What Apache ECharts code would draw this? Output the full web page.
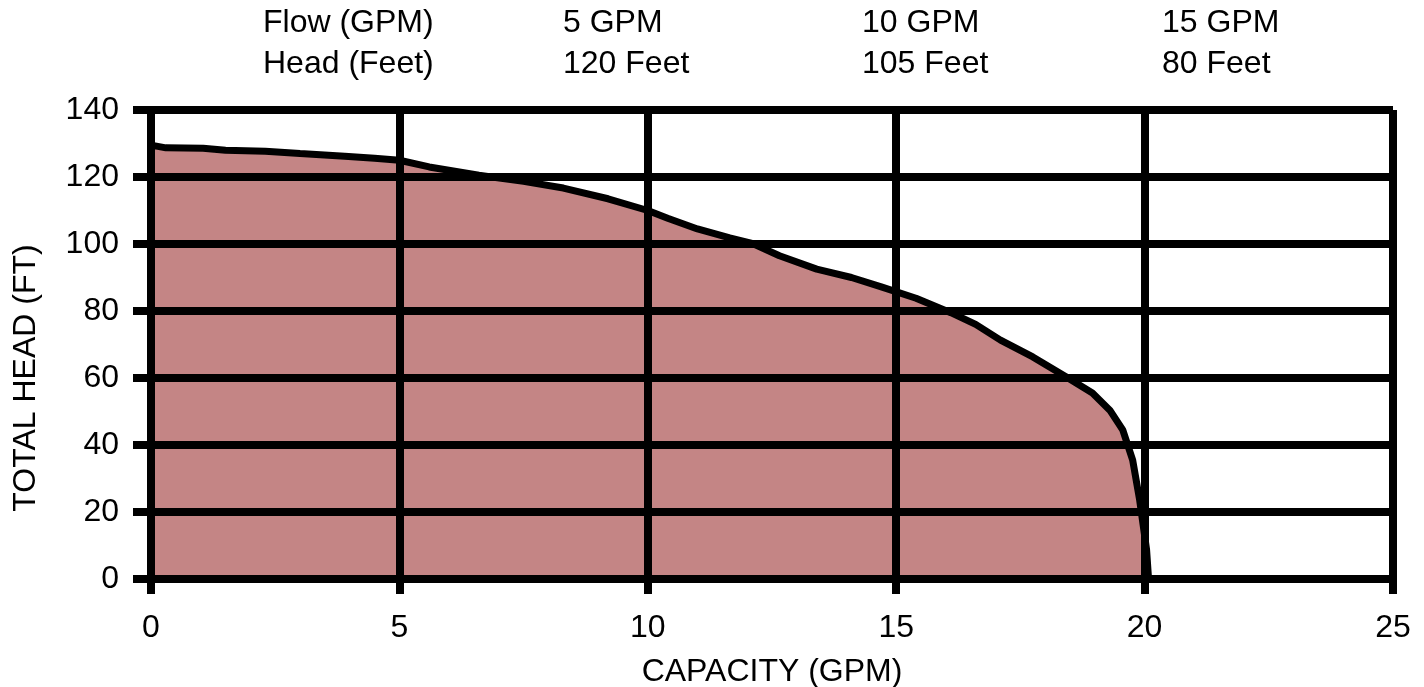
<!DOCTYPE html>
<html>
<head>
<meta charset="utf-8">
<script src="https://cdn.jsdelivr.net/npm/echarts@6/dist/echarts.min.js"></script>
<style>
  html, body { margin: 0; padding: 0; background: #fff; }
  #chart { width: 1424px; height: 687px; }
</style>
</head>
<body>
<div id="chart"></div>
<script>
// pump curve: [capacity GPM, total head ft]
const capacity = [0, 0, 0.3, 1.05, 1.5, 2.3, 3, 3.9, 4.5, 5, 5.6, 6.6, 7.5, 8.3, 9.2, 10, 10.4, 11, 11.65, 12.1,
  12.65, 13.4, 14.1, 14.7, 15.4, 16.1, 16.6, 17.1, 17.75, 18.4, 18.95, 19.3, 19.56, 19.76, 19.9, 20.04, 20.08]
const head = [0, 129.5, 128.7, 128.6, 128, 127.7, 127, 126.2, 125.6, 125, 123, 120.5, 118.7, 116.7, 113.5, 110, 107.7, 104.5, 101.8, 100.2,
  96.5, 92.5, 90, 87.2, 83.8, 79.5, 76, 71.3, 66.3, 60.5, 55.5, 50.4, 44.5, 35.5, 23.6, 8.7, 0]

// table printed above the chart
const flowLabels = ['5 GPM', '10 GPM', '15 GPM']
const headLabels = ['120 Feet', '105 Feet', '80 Feet']
const colLeft = [563, 862, 1162]

const font = 'Liberation Sans, Arial, sans-serif'
const black = '#000'
const fs = 32

const chart = echarts.init(document.getElementById('chart'))

const txt = (t, x, y) => ({ type: 'text', left: x, top: y, style: { text: t, font: fs + 'px ' + font, fill: black } })
const graphics = [txt('Flow (GPM)', 263, 7), txt('Head (Feet)', 263, 48)]
flowLabels.forEach((t, i) => {
  graphics.push(txt(t, colLeft[i], 7))
  graphics.push(txt(headLabels[i], colLeft[i], 48))
})
// y axis title sits a bit below the middle of the plot in the original
graphics.push({
  type: 'text', x: 26, y: 378, rotation: Math.PI / 2,
  style: { text: 'TOTAL HEAD (FT)', font: fs + 'px ' + font, fill: black, align: 'center', verticalAlign: 'middle' }
})

chart.setOption({
  animation: false,
  backgroundColor: '#fff',
  textStyle: { fontFamily: font },
  grid: { left: 151, right: 31, top: 110, bottom: 108, outerBoundsMode: 'none', containLabel: false },
  graphic: graphics,
  xAxis: {
    type: 'value', min: 0, max: 25, interval: 5, z: 5,
    name: 'CAPACITY (GPM)', nameLocation: 'middle', nameGap: 77,
    nameTextStyle: { fontSize: fs, color: black, fontFamily: font },
    axisLine: { show: true, lineStyle: { color: black, width: 8 } },
    axisTick: { show: true, length: 15, lineStyle: { color: black, width: 8 } },
    axisLabel: { fontSize: fs, color: black, margin: 33, fontFamily: font, showMinLabel: true, showMaxLabel: true },
    splitLine: { show: true, lineStyle: { color: black, width: 8 } }
  },
  yAxis: {
    type: 'value', min: 0, max: 140, interval: 20, z: 5,
    axisLine: { show: true, lineStyle: { color: black, width: 8 } },
    axisTick: { show: true, length: 18, lineStyle: { color: black, width: 8 } },
    axisLabel: { fontSize: fs, color: black, margin: 32, fontFamily: font },
    splitLine: { show: true, lineStyle: { color: black, width: 8 } }
  },
  series: [{
    type: 'line',
    data: capacity.map((c, i) => [c, head[i]]),
    symbol: 'none',
    smooth: false,
    z: 2,
    lineStyle: { color: black, width: 7 },
    areaStyle: { color: '#c48585', opacity: 1 }
  }]
})
</script>
</body>
</html>
